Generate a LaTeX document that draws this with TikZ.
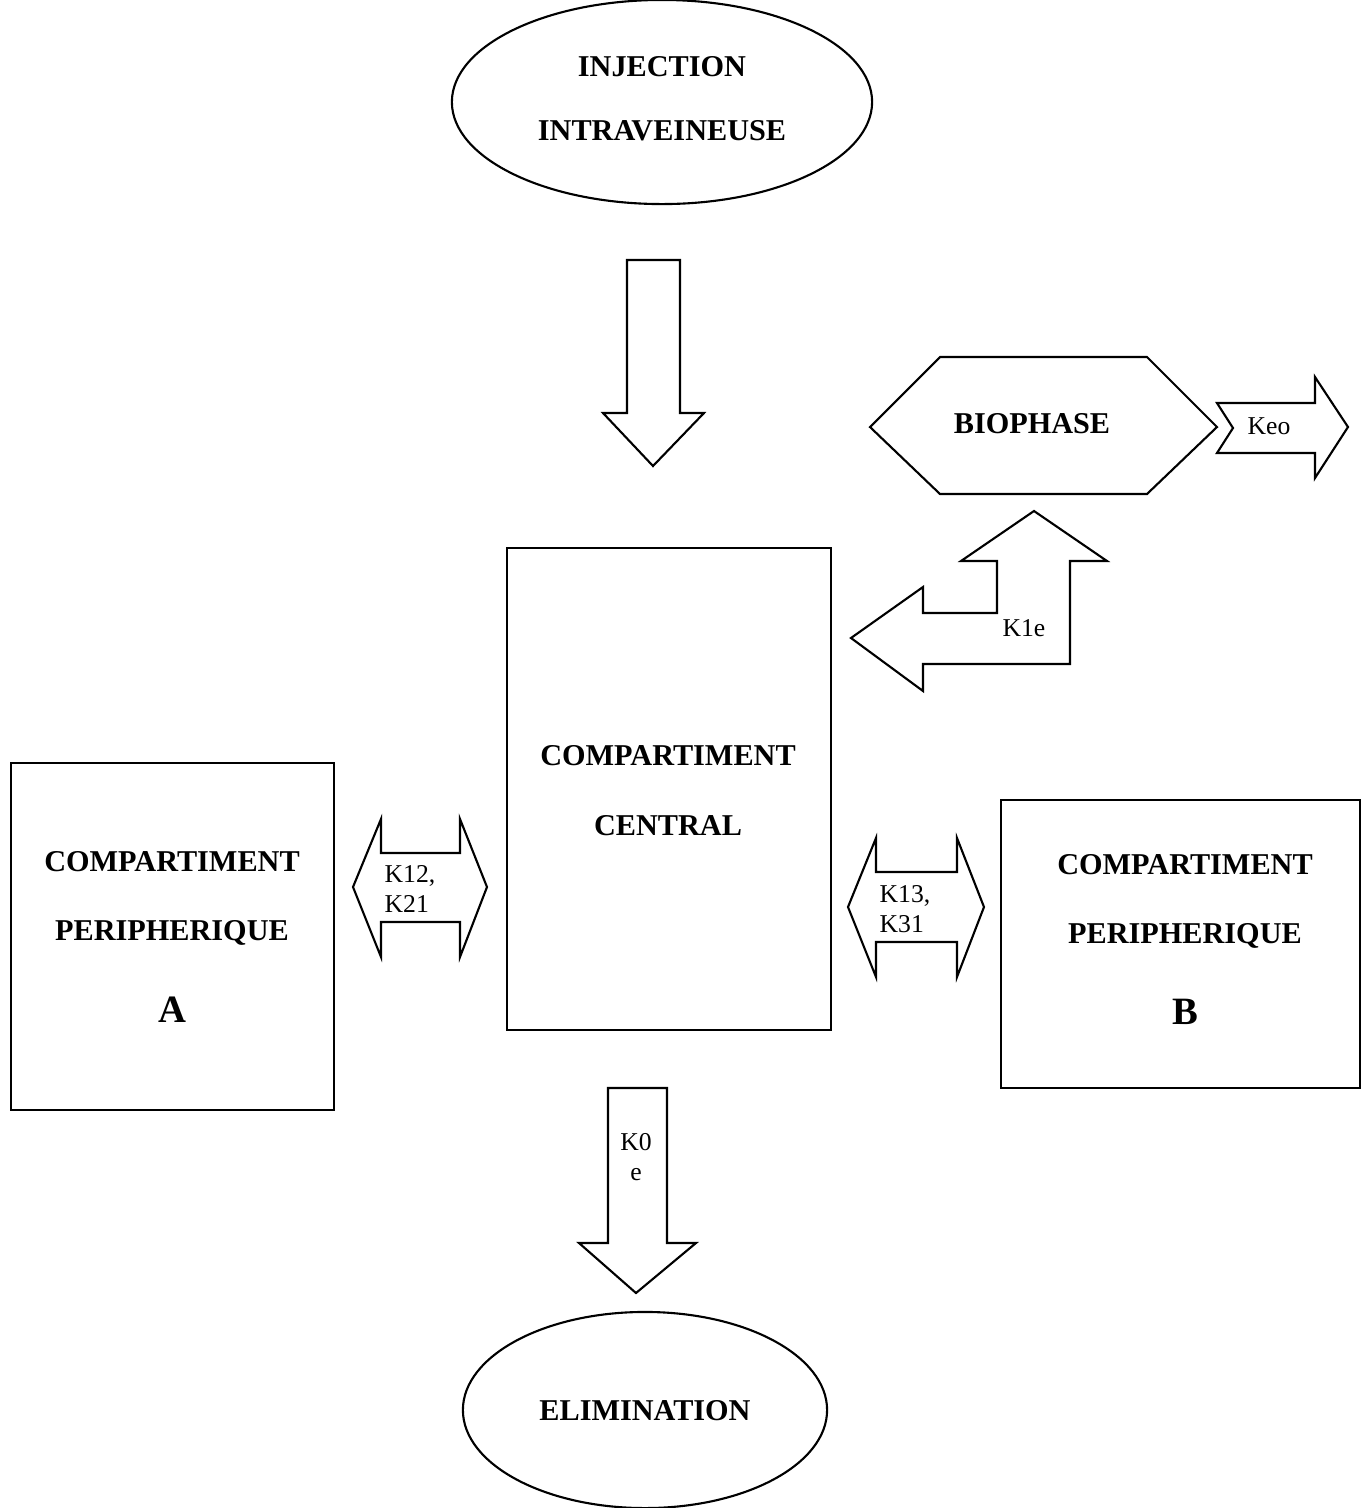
\documentclass[tikz,border=0pt]{standalone}
\usepackage{fontspec}
\setmainfont{Liberation Serif}
\usetikzlibrary{shapes.geometric}
\begin{document}
\begin{tikzpicture}[x=0.01cm,y=-0.01cm,
  lw/.style={line width=0.6pt},
  boxtxt/.style={font=\fontsize{8.6}{10}\selectfont\bfseries, inner sep=0pt},
  ktxt/.style={font=\fontsize{7.3}{8.6}\selectfont, inner sep=0pt, align=left},
  blockarrow/.style={lw, draw=black, fill=white, line join=miter},
  comp/.style={draw, lw, inner sep=0pt}]
\useasboundingbox (0,0) rectangle (1361,1508);

% Injection ellipse
\node[ellipse, comp, minimum width=4.2cm, minimum height=2.04cm] (inj) at (662,102) {};
\node[boxtxt] (injt1) at (662,67) {INJECTION};
\node[boxtxt] (injt2) at (662,131) {INTRAVEINEUSE};

% Down arrow from injection
\draw[blockarrow] (627,260) -- (680,260) -- (680,413) -- (704,413) -- (653,466) -- (603,413) -- (627,413) -- cycle;

% Central compartment
\node[comp, minimum width=3.24cm, minimum height=4.82cm] (central) at (669,789) {};
\node[boxtxt] (ct1) at (668,756) {COMPARTIMENT};
\node[boxtxt] (ct2) at (668,826) {CENTRAL};

% Peripheral A
\node[comp, minimum width=3.23cm, minimum height=3.47cm] (perA) at (172.5,936.5) {};
\node[boxtxt] (pa1) at (172,862) {COMPARTIMENT};
\node[boxtxt] (pa2) at (172,933) {PERIPHERIQUE};
\node[font=\fontsize{11}{12}\selectfont\bfseries, inner sep=0pt] (pa3) at (172,1010) {A};

% Peripheral B
\node[comp, minimum width=3.59cm, minimum height=2.88cm] (perB) at (1180.5,944) {};
\node[boxtxt] (pb1) at (1185,865) {COMPARTIMENT};
\node[boxtxt] (pb2) at (1185,936) {PERIPHERIQUE};
\node[font=\fontsize{11}{12}\selectfont\bfseries, inner sep=0pt] (pb3) at (1185,1012) {B};

% Double arrow K12/K21
\draw[blockarrow] (353,887) -- (381,819) -- (381,853) -- (460,853) -- (460,819) -- (487,887) -- (460,957) -- (460,922) -- (381,922) -- (381,957) -- cycle;
\node[ktxt, anchor=west] (k12) at (384,889) {K12,\\K21};

% Double arrow K13/K31
\draw[blockarrow] (848,907) -- (876,838) -- (876,872) -- (957,872) -- (957,838) -- (984,907) -- (957,977) -- (957,942) -- (876,942) -- (876,977) -- cycle;
\node[ktxt, anchor=west] (k13) at (879,909) {K13,\\K31};

% K0e arrow
\draw[blockarrow] (608,1088) -- (667,1088) -- (667,1243) -- (696,1243) -- (636,1293) -- (579,1243) -- (608,1243) -- cycle;
\node[ktxt, align=center] (k0e) at (636,1157) {K0\\e};

% Elimination ellipse
\node[ellipse, comp, minimum width=3.64cm, minimum height=1.96cm] (elim) at (645,1410) {};
\node[boxtxt] (elimt) at (645,1411) {ELIMINATION};

% Biophase hexagon
\draw[blockarrow] (870,427) -- (940,357) -- (1147,357) -- (1217,427) -- (1147,494) -- (940,494) -- cycle;
\node[boxtxt] (bio) at (1032,424) {BIOPHASE};

% Keo arrow
\draw[blockarrow] (1217,403) -- (1315,403) -- (1315,377) -- (1348,427) -- (1315,478) -- (1315,453) -- (1217,453) -- (1233,428) -- cycle;
\node[ktxt] (keo) at (1269,426) {Keo};

% Bent arrow K1e
\draw[blockarrow] (851,638) -- (923,587) -- (923,613) -- (997,613) -- (997,561) -- (961,561) -- (1034,511) -- (1107,561) -- (1070,561) -- (1070,664) -- (923,664) -- (923,691) -- cycle;
\node[ktxt] (k1e) at (1024,628) {K1e};
\end{tikzpicture}
\end{document}
